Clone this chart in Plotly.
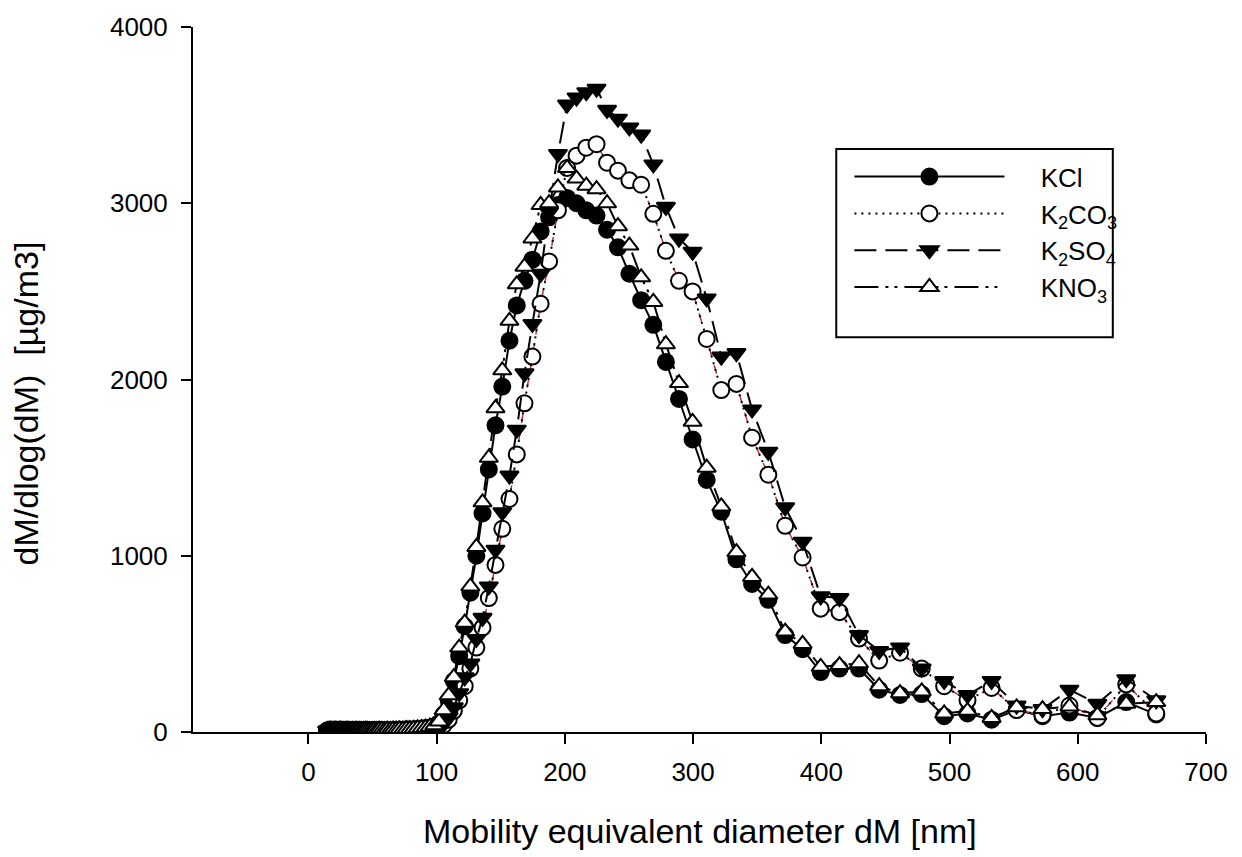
import plotly.graph_objects as go

# Mobility diameter channels [nm]
diam_nm = [14.6, 15.1, 15.7, 16.3, 16.8, 17.5, 18.1, 18.8, 19.5, 20.2,
           20.9, 21.7, 22.5, 23.3, 24.1, 25.0, 25.9, 26.9, 27.9, 28.9,
           30.0, 31.1, 32.2, 33.4, 34.6, 35.9, 37.2, 38.5, 40.0, 41.4,
           42.9, 44.5, 46.1, 47.8, 49.6, 51.4, 53.3, 55.2, 57.3, 59.4,
           61.5, 63.8, 66.1, 68.5, 71.0, 73.7, 76.4, 79.1, 82.0, 85.1,
           88.2, 91.4, 94.7, 98.2, 101.8, 105.5, 109.4, 113.4, 117.6, 121.9,
           126.3, 131.0, 135.8, 140.7, 145.9, 151.2, 156.8, 162.5, 168.5, 174.7,
           181.1, 187.7, 194.6, 201.7, 209.1, 216.7, 224.7, 232.9, 241.4, 250.3,
           259.5, 269.0, 278.8, 289.0, 299.6, 310.6, 322.0, 333.8, 346.0, 358.7,
           371.8, 385.4, 399.5, 414.2, 429.4, 445.1, 461.4, 478.3, 495.8, 514.0,
           532.8, 552.3, 572.5, 593.5, 615.3, 637.8, 661.2]

kcl = [8, 10, 9, 11, 10, 12, 10, 9, 11, 10,
       12, 11, 10, 9, 11, 12, 10, 11, 9, 10,
       12, 11, 10, 9, 11, 10, 12, 10, 11, 9,
       10, 12, 11, 10, 9, 11, 10, 12, 11, 10,
       12, 11, 13, 12, 14, 13, 15, 14, 16, 18,
       20, 22, 26, 32, 50, 100, 180, 290, 430, 600,
       790, 1000, 1240, 1490, 1740, 1960, 2220, 2420, 2560, 2680,
       2840, 2920, 2990, 3030, 3000, 2960, 2930, 2850, 2750, 2600,
       2450, 2310, 2100, 1890, 1660, 1430, 1250, 980, 840, 750,
       550, 470, 340, 360, 360, 240, 210, 215, 90, 105,
       70, 125, 90, 110, 80, 170, 100]

k2co3 = [6, 8, 7, 9, 8, 10, 9, 8, 7, 9,
         10, 8, 9, 7, 8, 10, 9, 8, 7, 9,
         8, 10, 9, 8, 7, 9, 8, 10, 9, 8,
         7, 9, 10, 8, 9, 7, 8, 10, 9, 8,
         9, 8, 10, 9, 11, 10, 12, 11, 12, 13,
         14, 15, 16, 18, 20, 40, 70, 120, 180, 260,
         360, 479, 592, 760, 948, 1153, 1322, 1575, 1865, 2130,
         2430, 2670, 2960, 3200, 3270, 3315, 3335, 3230, 3185, 3130,
         3105, 2940, 2730, 2560, 2500, 2230, 1940, 1975, 1670, 1460,
         1170, 990, 700, 680, 530, 405, 450, 360, 260, 180,
         250, 125, 95, 150, 80, 270, 105]

k2so4 = [7, 9, 8, 10, 9, 11, 10, 8, 9, 10,
         11, 9, 10, 8, 9, 11, 10, 9, 8, 10,
         9, 11, 10, 9, 8, 10, 9, 11, 10, 9,
         8, 10, 11, 9, 10, 8, 9, 11, 10, 9,
         10, 9, 11, 10, 12, 11, 12, 12, 13, 14,
         15, 16, 17, 19, 22, 45, 85, 140, 220, 310,
         388, 528, 648, 826, 1034, 1247, 1455, 1715, 2035, 2315,
         2600, 2950, 3280, 3560, 3600, 3630, 3650, 3530, 3480, 3430,
         3390, 3220, 2980, 2800, 2725, 2460, 2130, 2150, 1830, 1590,
         1275, 1080, 770, 760, 550, 460, 480, 360, 290, 210,
         290, 150, 130, 240, 160, 300, 180]

kno3 = [9, 11, 10, 12, 11, 13, 11, 10, 12, 11,
        13, 12, 11, 10, 12, 13, 11, 12, 10, 11,
        13, 12, 11, 10, 12, 11, 13, 11, 12, 10,
        11, 13, 12, 11, 10, 12, 11, 13, 12, 11,
        13, 12, 14, 13, 15, 14, 16, 16, 18, 20,
        22, 25, 30, 38, 60, 124, 208, 311, 479, 620,
        826, 1050, 1303, 1556, 1837, 2052, 2333, 2540, 2640, 2800,
        2990, 3000, 3090, 3200, 3140, 3100, 3080, 3000, 2870, 2760,
        2580, 2440, 2200, 1980, 1760, 1500, 1280, 1020, 880, 780,
        570, 500, 370, 380, 390, 260, 220, 230, 105, 120,
        80, 140, 130, 145, 95, 160, 170]

x_ticks = [0, 100, 200, 300, 400, 500, 600, 700]
y_ticks = [0, 1000, 2000, 3000, 4000]

FONT = "Liberation Sans, Arial, sans-serif"
mk_line = dict(color="black", width=2)
GAP = "\u2003\u2009"  # spacing between legend symbol and text

fig = go.Figure()

fig.add_trace(go.Scatter(
    x=diam_nm, y=kcl, name=GAP + "KCl", mode="lines+markers",
    line=dict(color="black", width=2),
    marker=dict(symbol="circle", size=16, color="black", line=mk_line)))

fig.add_trace(go.Scatter(
    x=diam_nm, y=k2co3, mode="lines", showlegend=False, hoverinfo="skip",
    line=dict(color="#c0282d", width=1.4, dash="dash")))

fig.add_trace(go.Scatter(
    x=diam_nm, y=k2co3, name=GAP + "K<sub>2</sub>CO<sub>3</sub>", mode="lines+markers",
    line=dict(color="black", width=2, dash="2px,5px"),
    marker=dict(symbol="circle", size=16, color="white", line=mk_line)))

fig.add_trace(go.Scatter(
    x=diam_nm, y=k2so4, name=GAP + "K<sub>2</sub>SO<sub>4</sub>", mode="lines+markers",
    line=dict(color="black", width=2, dash="22px,9px"),
    marker=dict(symbol="triangle-down", size=16, color="black", line=mk_line)))

fig.add_trace(go.Scatter(
    x=diam_nm, y=kno3, name=GAP + "KNO<sub>3</sub>", mode="lines+markers",
    line=dict(color="black", width=2, dash="24px,7px,3px,6px,3px,7px"),
    marker=dict(symbol="triangle-up", size=16, color="white", line=mk_line)))

fig.update_layout(
    width=1242, height=857,
    margin=dict(l=193, r=36, t=20, b=125),
    paper_bgcolor="white", plot_bgcolor="white",
    font=dict(family=FONT, size=26, color="black"),
    showlegend=True,
    legend=dict(
        x=0.648, y=0.821, xanchor="left", yanchor="top",
        bgcolor="rgba(255,255,255,0)", borderwidth=0,
        itemwidth=150, font=dict(family=FONT, size=26),
        tracegroupgap=0,
    ),
    shapes=[dict(type="rect", xref="paper", yref="paper",
                 x0=0.635, x1=0.908, y0=0.560, y1=0.827,
                 line=dict(color="black", width=2), fillcolor="rgba(0,0,0,0)")],
    annotations=[
        dict(text="Mobility equivalent diameter dM [nm]", xref="paper", yref="paper",
             x=0.5, y=-0.1404, xanchor="center", yanchor="middle", showarrow=False,
             font=dict(family=FONT, size=34, color="black")),
        dict(text="dM/dlog(dM)  [µg/m3]", xref="paper", yref="paper",
             x=-0.1639, y=0.466, xanchor="center", yanchor="middle", showarrow=False,
             textangle=-90, font=dict(family=FONT, size=34, color="black")),
    ],
)

fig.update_xaxes(
    range=[-90, 700], tickvals=x_ticks, ticks="outside", ticklen=10, tickwidth=2,
    tickcolor="black", showline=True, linecolor="black", linewidth=2,
    showgrid=False, zeroline=False, ticklabelstandoff=6,
    tickfont=dict(family=FONT, size=26))

fig.update_yaxes(
    range=[0, 4000], tickvals=y_ticks, ticks="outside", ticklen=10, tickwidth=2,
    tickcolor="black", showline=True, linecolor="black", linewidth=2,
    showgrid=False, zeroline=False, ticklabelstandoff=8,
    tickfont=dict(family=FONT, size=26))

fig.write_html("out.html")
